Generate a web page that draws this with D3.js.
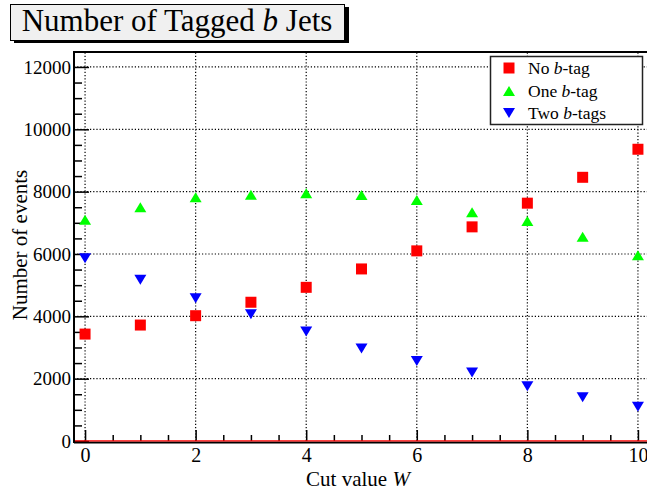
<!DOCTYPE html>
<html>
<head>
<meta charset="utf-8">
<script src="https://cdn.jsdelivr.net/npm/d3@7"></script>
<style>
  body { margin: 0; background: #fff; }
  svg { display: block; }
  text { font-family: "Liberation Serif", "Times New Roman", serif; fill: #000; }
</style>
</head>
<body>
<svg id="chart" width="647" height="493"></svg>
<script>
// Cut value W on the x axis
const cutValues = [0, 1, 2, 3, 4, 5, 6, 7, 8, 9, 10];
// Event counts per tag multiplicity
const noTag   = [3430, 3720, 4020, 4450, 4930, 5520, 6100, 6870, 7630, 8460, 9360];
const oneTag  = [7100, 7500, 7820, 7900, 7950, 7890, 7730, 7340, 7060, 6550, 5960];
const twoTags = [5860, 5170, 4580, 4070, 3510, 2970, 2570, 2200, 1760, 1400, 1100];
// Axis ticks
const xTicks = [0, 2, 4, 6, 8, 10];
const yTicks = [0, 2000, 4000, 6000, 8000, 10000, 12000];
const seriesNames = ["No", "One", "Two"];

const svg = d3.select("#chart");
const x = d3.scaleLinear().domain([-0.2, 10.2]).range([74, 649]);
const y = d3.scaleLinear().domain([0, 12480]).range([441, 52]);
const [x0, x1] = x.range();
const [yb, yt] = y.range();

// dotted grid at the major ticks
const grid = svg.append("g").attr("stroke", "#000").attr("stroke-width", 1.2)
  .attr("stroke-dasharray", "1.2,2");
grid.selectAll("line.v").data(xTicks).join("line").attr("class", "v")
  .attr("x1", d => x(d)).attr("x2", d => x(d)).attr("y1", yb).attr("y2", yt);
grid.selectAll("line.h").data(yTicks.filter(d => d > 0)).join("line").attr("class", "h")
  .attr("x1", x0).attr("x2", x1).attr("y1", d => y(d)).attr("y2", d => y(d));

// axes: ticks drawn inward
const xMinor = d3.range(0, 10.01, 0.5).filter(d => d % 2 !== 0);
const yMinor = d3.range(0, 12480, 500).filter(d => d % 2000 !== 0);

function styleAxis(g) {
  g.select(".domain").remove();
  g.selectAll(".tick line").attr("stroke", "#000").attr("stroke-width", 1.5);
  g.selectAll(".tick text").style("font-family", "Liberation Serif, serif").attr("fill", "#000");
}

svg.append("g").attr("transform", `translate(0,${yb})`)
  .call(d3.axisBottom(x).tickValues(xMinor).tickSize(-6).tickFormat(""))
  .call(styleAxis);
svg.append("g").attr("transform", `translate(0,${yb})`)
  .call(d3.axisBottom(x).tickValues(xTicks).tickSize(-11).tickPadding(7).tickFormat(d3.format("d")))
  .call(styleAxis)
  .selectAll(".tick text").style("font-size", "20px");

svg.append("g").attr("transform", `translate(${x0},0)`)
  .call(d3.axisLeft(y).tickValues(yMinor).tickSize(-8).tickFormat(""))
  .call(styleAxis);
svg.append("g").attr("transform", `translate(${x0},0)`)
  .call(d3.axisLeft(y).tickValues(yTicks).tickSize(-15).tickPadding(3).tickFormat(d3.format("d")))
  .call(styleAxis)
  .selectAll(".tick text").style("font-size", "19px");

// frame
svg.append("line").attr("x1", x0).attr("x2", x0).attr("y1", yt - 1).attr("y2", yb + 2)
  .attr("stroke", "#000").attr("stroke-width", 2);
svg.append("line").attr("x1", x0).attr("x2", x1).attr("y1", yt).attr("y2", yt)
  .attr("stroke", "#000").attr("stroke-width", 2);
svg.append("line").attr("x1", x0).attr("x2", x1).attr("y1", yb + 1.5).attr("y2", yb + 1.5)
  .attr("stroke", "#000").attr("stroke-width", 2);
svg.append("line").attr("x1", x0 + 1).attr("x2", x1).attr("y1", y(0) - 0.2).attr("y2", y(0) - 0.2)
  .attr("stroke", "#ff0000").attr("stroke-width", 1.2);

// marker shapes
const markerPath = {
  No:  (cx, cy) => `M${cx - 5.5},${cy - 5.5}h11v11h-11Z`,
  One: (cx, cy) => `M${cx - 6},${cy + 5}L${cx + 6},${cy + 5}L${cx},${cy - 5}Z`,
  Two: (cx, cy) => `M${cx - 6},${cy - 5}L${cx + 6},${cy - 5}L${cx},${cy + 5}Z`
};
const colors = { No: "#ff0000", One: "#00ff00", Two: "#0000ff" };
const seriesData = { No: noTag, One: oneTag, Two: twoTags };

seriesNames.forEach(name => {
  svg.append("g").selectAll("path").data(cutValues).join("path")
    .attr("d", (c, i) => markerPath[name](x(c), y(seriesData[name][i])))
    .attr("fill", colors[name]);
});

// title box with drop shadow
const title = svg.append("g");
title.append("rect").attr("x", 14).attr("y", 7).attr("width", 335).attr("height", 36).attr("fill", "#000");
title.append("rect").attr("x", 10.5).attr("y", 4.5).attr("width", 334).attr("height", 36)
  .attr("fill", "#f0f0f0").attr("stroke", "#000").attr("stroke-width", 1);
const tt = title.append("text").attr("x", 177).attr("y", 31).attr("text-anchor", "middle")
  .style("font-size", "31px");
tt.append("tspan").text("Number of Tagged ");
tt.append("tspan").style("font-style", "italic").text("b");
tt.append("tspan").text(" Jets");

// axis titles
const xt = svg.append("text").attr("x", 358).attr("y", 486).attr("text-anchor", "middle")
  .style("font-size", "21px");
xt.append("tspan").text("Cut value ");
xt.append("tspan").style("font-style", "italic").text("W");

svg.append("text").attr("transform", "translate(27,245) rotate(-90)").attr("text-anchor", "middle")
  .style("font-size", "21px").text("Number of events");

// legend
const legendLabels = [
  ["No ", "b", "-tag"],
  ["One ", "b", "-tag"],
  ["Two ", "b", "-tags"]
];
const lg = svg.append("g");
lg.append("rect").attr("x", 490.5).attr("y", 56.5).attr("width", 152).attr("height", 68)
  .attr("fill", "#fff").attr("stroke", "#222").attr("stroke-width", 1.5);
const rows = [68, 91, 113];
seriesNames.forEach((name, i) => {
  lg.append("path").attr("d", markerPath[name](509, rows[i])).attr("fill", colors[name]);
  const t = lg.append("text").attr("x", 528).attr("y", rows[i] + 6).style("font-size", "17.5px");
  t.append("tspan").text(legendLabels[i][0]);
  t.append("tspan").style("font-style", "italic").text(legendLabels[i][1]);
  t.append("tspan").text(legendLabels[i][2]);
});
</script>
</body>
</html>
